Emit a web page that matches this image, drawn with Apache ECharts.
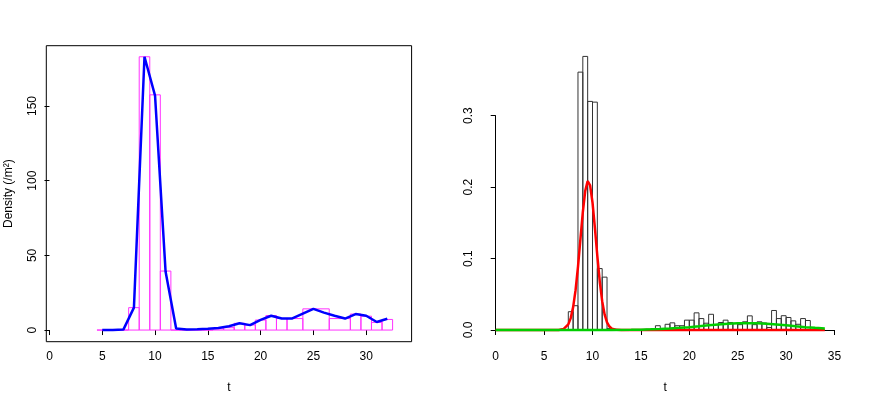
<!DOCTYPE html>
<html>
	<head>
		<meta charset="utf-8">
		<title>Density of t</title>
		<script src="https://cdn.jsdelivr.net/npm/echarts@6/dist/echarts.min.js"></script>
		<style>
			html, body { margin: 0; padding: 0; background: #fff; }
			#chart { width: 872px; height: 399px; }
		</style>
	</head>
	<body>
		<div id="chart"></div>
		<script>
			// left panel: histogram with uneven bins, and the blue density line
			let leftBinStart = [4.5, 5.5, 6.5, 7.5, 8.5, 9.5, 10.5, 11.5, 12.5, 13.5, 14.5, 15.5, 16.5, 17.5, 18.5, 19.5, 20.5, 21.5, 22.5, 24, 26.5, 28.5, 29.5, 30.5, 31.5]
			let leftBinEnd = [5.5, 6.5, 7.5, 8.5, 9.5, 10.5, 11.5, 12.5, 13.5, 14.5, 15.5, 16.5, 17.5, 18.5, 19.5, 20.5, 21.5, 22.5, 24, 26.5, 28.5, 29.5, 30.5, 31.5, 32.5]
			let leftDensity = [0, 0, 0, 15, 183, 157.5, 39.5, 0, 0, 0, 0, 0.8, 1.6, 4.5, 3.4, 6.7, 9.7, 7.7, 7.7, 14.2, 7.7, 10.7, 9.3, 5.1, 7.1]
			let lineT = [5, 6, 7, 8, 9, 10, 11, 12, 13, 14, 15, 16, 17, 18, 19, 20, 21, 22, 23, 24, 25, 26, 27, 28, 29, 30, 31, 32]
			let lineDensity = [0, 0, 0.3, 15, 183, 157, 39, 1, 0.3, 0.5, 0.9, 1.4, 2.6, 4.5, 3.3, 6.8, 9.6, 7.7, 7.8, 11, 14.2, 11.7, 9.6, 7.7, 10.7, 9.6, 5.4, 7.6]

			// right panel: histogram (bin width 0.5) and two fitted curves
			let rightBinStart = [7.5, 8, 8.5, 9, 9.5, 10, 10.5, 11, 11.5, 12, 15.5, 16, 16.5, 17, 17.5, 18, 18.5, 19, 19.5, 20, 20.5, 21, 21.5, 22, 22.5, 23, 23.5, 24, 24.5, 25, 25.5, 26, 26.5, 27, 27.5, 28, 28.5, 29, 29.5, 30, 30.5, 31, 31.5, 32]
			let rightDensity = [0.0256, 0.034, 0.361, 0.383, 0.32, 0.319, 0.086, 0.074, 0.002, 0.001, 0.001, 0.001, 0.006, 0.002, 0.008, 0.010, 0.006, 0.006, 0.0138, 0.0138, 0.024, 0.016, 0.0095, 0.022, 0.0075, 0.0105, 0.0138, 0.0105, 0.009, 0.0075, 0.0115, 0.0198, 0.0075, 0.0115, 0.0098, 0.0035, 0.0273, 0.016, 0.02, 0.0175, 0.0128, 0.008, 0.016, 0.0133]
			let binWidth = 0.5
			let redT = [0, 3, 6, 6.5, 7, 7.5, 7.75, 8, 8.25, 8.5, 8.75, 9, 9.25, 9.5, 9.75, 10, 10.25, 10.5, 10.75, 11, 11.25, 11.5, 11.75, 12, 12.5, 13, 20, 34]
			let redDensity = [0, 0, 0.00003, 0.00015, 0.0013, 0.0079, 0.0166, 0.032, 0.0558, 0.0883, 0.1268, 0.165, 0.1948, 0.2086, 0.2026, 0.1785, 0.1425, 0.1033, 0.0679, 0.0404, 0.0219, 0.0107, 0.0048, 0.0019, 0.0002, 0, 0, 0]
			let greenT = [0, 4, 8, 10, 12, 14, 15, 16, 17, 18, 19, 20, 21, 22, 23, 24, 25, 26, 27, 28, 29, 30, 31, 32, 33, 34]
			let greenDensity = [0, 0, 0, 0.00002, 0.00009, 0.0003, 0.0005, 0.0009, 0.0014, 0.0021, 0.003, 0.004, 0.0052, 0.0065, 0.0077, 0.0086, 0.0093, 0.0095, 0.0093, 0.0086, 0.0077, 0.0065, 0.0052, 0.004, 0.003, 0.0021]

			let leftTicksX = [0, 5, 10, 15, 20, 25, 30]
			let leftTicksY = [0, 50, 100, 150]

			function pairs(xs, ys) {
				var out = []
				for (var i = 0; i < xs.length; i++) out.push([xs[i], ys[i]])
				return out
			}

			function histRect(color) {
				return function(params, api) {
					var p0 = api.coord([api.value(0), api.value(2)])
					var p1 = api.coord([api.value(1), 0])
					return {
						type: 'rect',
						shape: { x: p0[0], y: p0[1], width: p1[0] - p0[0], height: p1[1] - p0[1] },
						style: { fill: 'none', stroke: color, lineWidth: 1 }
					}
				}
			}

			var leftBars = []
			for (var i = 0; i < leftBinStart.length; i++) leftBars.push([leftBinStart[i], leftBinEnd[i], leftDensity[i]])
			var rightBars = []
			for (var i = 0; i < rightBinStart.length; i++) rightBars.push([rightBinStart[i], rightBinStart[i] + binWidth, rightDensity[i]])

			var font = 'Liberation Sans'
			var lbl = { color: '#000', fontSize: 12, fontFamily: font }
			var tick = { show: true, length: 5, lineStyle: { color: '#000', width: 1 } }

			var myChart = echarts.init(document.getElementById('chart'), null, { renderer: 'canvas' })
			var option = {
				animation: false,
				backgroundColor: '#fff',
				grid: [
					{ left: 46.3, top: 45.7, width: 365.3, height: 296, show: true, borderColor: '#000', borderWidth: 1, backgroundColor: 'transparent', outerBoundsMode: 'none' },
					{ left: 495.7, top: 115.7, width: 338.8, height: 214.3, outerBoundsMode: 'none' }
				],
				xAxis: [
					{
						gridIndex: 0, type: 'value', min: -0.3, max: 34.3,
						axisLine: { show: false }, splitLine: { show: false },
						axisTick: Object.assign({ customValues: leftTicksX }, tick),
						axisLabel: Object.assign({ customValues: leftTicksX, margin: 9 }, lbl),
						name: 't', nameLocation: 'middle', nameGap: 40,
						nameTextStyle: { color: '#000', fontSize: 12, fontFamily: font }
					},
					{
						gridIndex: 1, type: 'value', min: 0, max: 35, interval: 5, offset: 11.7,
						axisLine: { show: true, lineStyle: { color: '#000', width: 1 } }, splitLine: { show: false },
						axisTick: tick,
						axisLabel: Object.assign({ margin: 9, showMinLabel: true, showMaxLabel: true }, lbl),
						name: 't', nameLocation: 'middle', nameGap: 40,
						nameTextStyle: { color: '#000', fontSize: 12, fontFamily: font }
					}
				],
				yAxis: [
					{
						gridIndex: 0, type: 'value', min: -7.8, max: 190.4,
						axisLine: { show: false }, splitLine: { show: false },
						axisTick: Object.assign({ customValues: leftTicksY }, tick),
						axisLabel: Object.assign({ customValues: leftTicksY, rotate: 90, margin: 8 }, lbl)
					},
					{
						gridIndex: 1, type: 'value', min: 0, max: 0.3, interval: 0.1, offset: 13.3,
						axisLine: { show: true, lineStyle: { color: '#000', width: 1 } }, splitLine: { show: false },
						axisTick: tick,
						axisLabel: Object.assign({ rotate: 90, margin: 8, showMinLabel: true, showMaxLabel: true, formatter: function(v) { return v.toFixed(1) } }, lbl)
					}
				],
				graphic: [{
					type: 'text', x: 8.5, y: 193.7, rotation: Math.PI / 2,
					style: { text: 'Density (/m²)', fill: '#000', fontSize: 12, fontFamily: font, align: 'center', verticalAlign: 'middle' }
				}],
				series: [
					{
						type: 'custom', xAxisIndex: 0, yAxisIndex: 0,
						renderItem: histRect('#ff33ff'), encode: { x: [0, 1], y: 2 }, data: leftBars
					},
					{
						type: 'line', xAxisIndex: 0, yAxisIndex: 0, data: pairs(lineT, lineDensity),
						showSymbol: false, lineStyle: { color: '#0000ff', width: 2.5 }, z: 3
					},
					{
						type: 'custom', xAxisIndex: 1, yAxisIndex: 1, clip: false,
						renderItem: histRect('#333'), encode: { x: [0, 1], y: 2 }, data: rightBars
					},
					{
						type: 'line', xAxisIndex: 1, yAxisIndex: 1, data: pairs(redT, redDensity), clip: false,
						showSymbol: false, lineStyle: { color: '#ff0000', width: 2.5 }, z: 3
					},
					{
						type: 'line', xAxisIndex: 1, yAxisIndex: 1, data: pairs(greenT, greenDensity), clip: false,
						showSymbol: false, lineStyle: { color: '#00cd00', width: 2.5 }, z: 4
					}
				]
			}
			myChart.setOption(option)
		</script>
	</body>
</html>
